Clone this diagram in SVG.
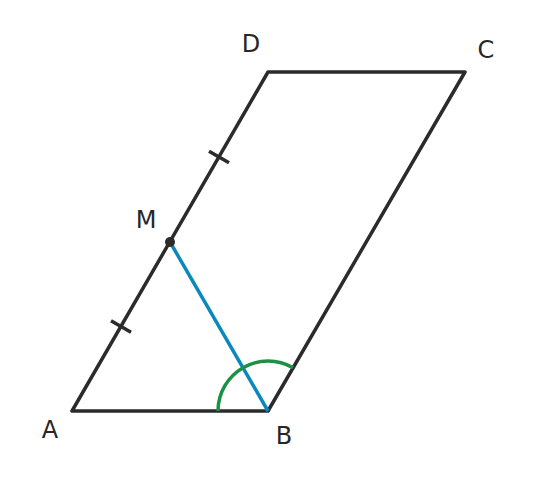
<svg xmlns="http://www.w3.org/2000/svg" width="536" height="484" viewBox="0 0 536 484">
<style>
.e{stroke:#2b2b2b;stroke-width:3.5;fill:none;stroke-linecap:round;stroke-linejoin:round}
.t{stroke:#2b2b2b;stroke-width:3.5}
.lb{font-family:"DejaVu Sans",sans-serif;font-size:24px;fill:#262626;text-anchor:middle}
</style>
<rect width="536" height="484" fill="#fff"/>
<g id="connectors">
<polygon class="e" points="72,411 268,411 465,72 268,72"/>
<line x1="170" y1="242" x2="268" y2="411" stroke="#0a88bd" stroke-width="3.5"/>
<path d="M218,411 A50,50 0 0 1 293.1,367.8" fill="none" stroke="#1a9145" stroke-width="3.5"/>
<line class="t" x1="111" y1="320.7" x2="131" y2="332.3"/>
<line class="t" x1="209" y1="151.2" x2="229" y2="162.8"/>
</g>
<g id="M"><circle cx="170" cy="242" r="5" fill="#2b2b2b"/><text class="lb" x="146" y="228">M</text></g>
<g id="A"><text class="lb" x="50" y="438">A</text></g>
<g id="B"><text class="lb" x="284" y="444">B</text></g>
<g id="C"><text class="lb" x="486" y="58">C</text></g>
<g id="D"><text class="lb" x="251" y="52">D</text></g>
</svg>
